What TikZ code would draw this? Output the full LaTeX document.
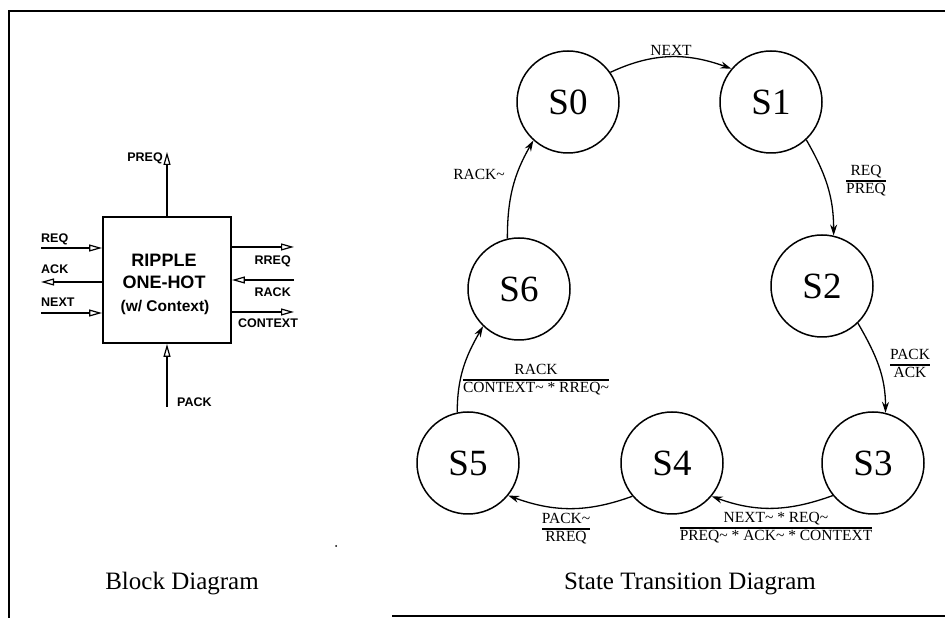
\documentclass[tikz,border=0pt]{standalone}
\usepackage{fontspec}
\setmainfont{Liberation Serif}
\newfontfamily\hv{Liberation Sans}
\usetikzlibrary{arrows.meta}
\setlength{\arrayrulewidth}{1.2pt}
\newcommand{\stfrac}[2]{\begin{tabular}{@{}c@{}}#1\\\hline #2\end{tabular}}
\begin{document}
\begin{tikzpicture}[x=1pt,y=1pt,
  blk/.style={font=\hv\bfseries\fontsize{12.5}{13}\selectfont, inner sep=0pt},
  boxtxt/.style={font=\hv\bfseries\fontsize{18}{20}\selectfont, inner sep=0pt, anchor=base},
  sig/.style={line width=1.4pt, -{Triangle[open,length=13pt,width=7pt,line width=1.2pt]}},
  state/.style={circle, draw, line width=1.5pt, minimum size=102pt, inner sep=0pt, font=\fontsize{37}{40}\selectfont},
  tr/.style={line width=1.3pt, -{Stealth[length=11pt,width=7pt]}},
  lbl/.style={font=\fontsize{15.5}{17}\selectfont, inner sep=0pt},
  title/.style={font=\fontsize{25}{28}\selectfont, inner sep=0pt, anchor=base},
  frame/.style={line width=1.8pt}
]
\fill[white] (0,0) rectangle (945,618);
\useasboundingbox (0,0) rectangle (945,618);
% frame
\draw[frame] (945,607) -- (9,607) -- (9,0);
\draw[frame] (392,2) -- (945,2);

% ---------- block diagram ----------
\node[draw, line width=1.8pt, minimum width=128pt, minimum height=126pt, inner sep=0pt] (box) at (167,338) {};
\node[boxtxt] (t1) at (164,351) {RIPPLE};
\node[boxtxt] (t2) at (164,329) {ONE-HOT};
\node[boxtxt, font=\hv\bfseries\fontsize{15.5}{17}\selectfont] (t3) at (165,306) {(w/ Context)};

\coordinate (preqE) at (167,466);
\coordinate (reqS) at (41,370);
\coordinate (ackE) at (41,336);
\coordinate (nextS) at (41,305);
\coordinate (rreqE) at (294,371);
\coordinate (rackS) at (294,338);
\coordinate (ctxE) at (294,306);
\coordinate (packS) at (167,211);

\draw[sig] (box.north) -- (preqE);
\draw[sig] (reqS) -- (reqS -| box.west);
\draw[sig] (ackE -| box.west) -- (ackE);
\draw[sig] (nextS) -- (nextS -| box.west);
\draw[sig] (rreqE -| box.east) -- (rreqE);
\draw[sig] (rackS) -- (rackS -| box.east);
\draw[sig] (ctxE -| box.east) -- (ctxE);
\draw[sig] (packS) -- (box.south);

\node[blk, anchor=base east] (lPREQ) at (163,456) {PREQ};
\node[blk, anchor=base west] (lREQ) at (41,375) {REQ};
\node[blk, anchor=base west] (lACK) at (41,344) {ACK};
\node[blk, anchor=base west] (lNEXT) at (41,311) {NEXT};
\node[blk, anchor=base east] (lRREQ) at (291,353) {RREQ};
\node[blk, anchor=base east] (lRACK) at (291,321) {RACK};
\node[blk, anchor=base west] (lCTX) at (238,290) {CONTEXT};
\node[blk, anchor=base west] (lPACK) at (177,211) {PACK};

% ---------- state diagram ----------
\node[state] (S0) at (568,516) {S0};
\node[state] (S1) at (771,516) {S1};
\node[state] (S2) at (822,332) {S2};
\node[state] (S3) at (873,155) {S3};
\node[state] (S4) at (672,155) {S4};
\node[state] (S5) at (468,155) {S5};
\node[state] (S6) at (519,329) {S6};

\draw[tr] (S0.35) to[out=25,in=160] (S1.140);
\draw[tr] (S1.-47) to[out=-60,in=90] (S2.77);
\draw[tr] (S2.-46) to[out=-60,in=90] (S3.76);
\draw[tr] (S3.219) to[out=200,in=-20] (S4.-40);
\draw[tr] (S4.220) to[out=200,in=-20] (S5.-39);
\draw[tr] (S5.102) to[out=90,in=240] (S6.226);
\draw[tr] (S6.103) to[out=90,in=240] (S0.228);

\node[lbl, anchor=base] (lNext) at (671,562) {NEXT};
\node[lbl] (lReq) at (866,437) {\stfrac{REQ}{PREQ}};
\node[lbl] (lPack) at (910,253) {\stfrac{PACK}{ACK}};
\node[lbl] (lNx) at (776,90) {\stfrac{NEXT\textasciitilde{} * REQ\textasciitilde}{PREQ\textasciitilde{} * ACK\textasciitilde{} * CONTEXT}};
\node[lbl] (lPk) at (566,89) {\stfrac{PACK\textasciitilde}{RREQ}};
\node[lbl] (lRack) at (536,238) {\stfrac{RACK}{CONTEXT\textasciitilde{} * RREQ\textasciitilde}};
\node[lbl, anchor=base east] (lRk) at (505,438) {RACK\textasciitilde};

% titles
\node[title] (tB) at (182,28) {Block Diagram};
\node[title] (tS) at (690,28) {State Transition Diagram};

\fill (336,72) circle (1);
\end{tikzpicture}
\end{document}
